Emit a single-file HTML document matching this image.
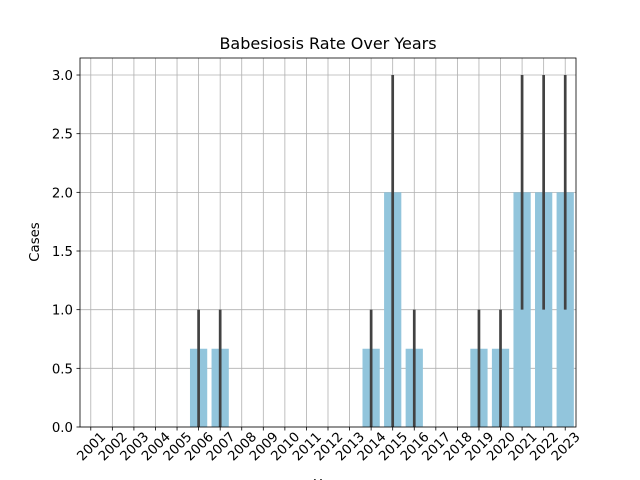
<!DOCTYPE html>
<html><head><meta charset="utf-8"><style>body{margin:0;background:#fff}svg{display:block;font-family:"DejaVu Sans","Liberation Sans",sans-serif}</style></head>
<body>
<svg id="c" width="640" height="480"></svg>
<script>
const categories=["2001","2002","2003","2004","2005","2006","2007","2008","2009","2010","2011","2012","2013","2014","2015","2016","2017","2018","2019","2020","2021","2022","2023"];
const means=[0,0,0,0,0,0.667,0.667,0,0,0,0,0,0,0.667,2,0.667,0,0,0.667,0.667,2,2,2];
const errLow=[0,0,0,0,0,0,0,0,0,0,0,0,0,0,0,0,0,0,0,0,1,1,1];
const errHigh=[0,0,0,0,0,1,1,0,0,0,0,0,0,1,3,1,0,0,1,1,3,3,3];
const yTicks=[0,0.5,1,1.5,2,2.5,3];
const yTickLabels=["0.0","0.5","1.0","1.5","2.0","2.5","3.0"];
const L=80,R=576,T=58,B=427,yMax=3.145;
const NS="http://www.w3.org/2000/svg",svg=document.getElementById('c');
const n=categories.length,step=(R-L)/n;
const x=i=>L+step*(i+0.5), y=v=>B-(v/yMax)*(B-T);
function mk(t,a,p){const e=document.createElementNS(NS,t);for(const k in a)e.setAttribute(k,a[k]);(p||svg).appendChild(e);return e;}
const grid=mk('g',{});
categories.forEach((c,i)=>{mk('line',{x1:x(i),x2:x(i),y1:T,y2:B,stroke:'#b0b0b0','stroke-width':0.8},grid);});
yTicks.forEach(v=>{mk('line',{x1:L,x2:R,y1:y(v),y2:y(v),stroke:'#b0b0b0','stroke-width':0.8},grid);});
means.forEach((v,i)=>{if(v<=0)return;const r=mk('rect',{x:x(i)-step*0.4,width:step*0.8,y:y(v),height:B-y(v),fill:'#92c5dc'});
});
means.forEach((v,i)=>{if(errHigh[i]<=errLow[i])return;const l=mk('line',{x1:x(i),x2:x(i),y1:y(errLow[i]),y2:y(errHigh[i]),stroke:'#424242','stroke-width':2.7});
});
const fr=mk('rect',{x:L,y:T,width:R-L,height:B-T,fill:'none',stroke:'#000','stroke-width':0.8});

yTicks.forEach((v,i)=>{mk('line',{x1:L-3.5,x2:L,y1:y(v),y2:y(v),stroke:'#000','stroke-width':0.8});
const t=mk('text',{x:L-7,y:y(v)+5,'text-anchor':'end','font-size':13.3});t.textContent=yTickLabels[i];
});
categories.forEach((c,i)=>{mk('line',{x1:x(i),x2:x(i),y1:B,y2:B+3.5,stroke:'#000','stroke-width':0.8});
const cx=x(i),cy=446;const t=mk('text',{x:cx,y:cy+5,'text-anchor':'middle','font-size':13.3,transform:`rotate(-45 ${cx} ${cy})`});t.textContent=c;
});
let t=mk('text',{x:328,y:49,'text-anchor':'middle','font-size':16});t.textContent='Babesiosis Rate Over Years';

t=mk('text',{x:39,y:242,'text-anchor':'middle','font-size':13.3,transform:'rotate(-90 39 242)'});t.textContent='Cases';

t=mk('text',{x:328,y:489,'text-anchor':'middle','font-size':13.3});t.textContent='Year';

</script>
</body></html>
